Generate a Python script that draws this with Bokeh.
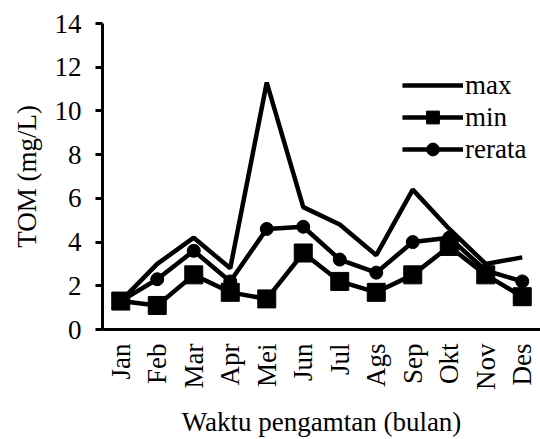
from math import pi
from bokeh.plotting import figure
from bokeh.models import FactorRange, Range1d, FixedTicker, Legend, LegendItem, ColumnDataSource
from bokeh.embed import file_html
from bokeh.resources import INLINE

months = ["Jan", "Feb", "Mar", "Apr", "Mei", "Jun", "Jul", "Ags", "Sep", "Okt", "Nov", "Des"]
tom_max = [1.3, 3.0, 4.2, 2.8, 11.3, 5.6, 4.8, 3.4, 6.4, 4.6, 3.0, 3.3]
tom_min = [1.3, 1.1, 2.5, 1.7, 1.4, 3.5, 2.2, 1.7, 2.5, 3.8, 2.5, 1.5]
tom_rerata = [1.3, 2.3, 3.6, 2.2, 4.6, 4.7, 3.2, 2.6, 4.0, 4.2, 2.7, 2.2]
y_ticks = [0, 2, 4, 6, 8, 10, 12, 14]

FONT = "Liberation Serif"

src = ColumnDataSource(dict(m=months, mx=tom_max, mn=tom_min, rr=tom_rerata))

p = figure(width=540, height=439, x_range=FactorRange(*months), y_range=Range1d(0, 14),
           output_backend="svg", toolbar_location=None,
           min_border_left=102, min_border_right=0, min_border_top=23, min_border_bottom=110)
p.outline_line_color = None
p.xgrid.grid_line_color = None
p.ygrid.grid_line_color = None
p.background_fill_color = "white"
p.x_range.range_padding = 0

lw = 4.5
r_max = p.line("m", "mx", source=src, line_color="black", line_width=lw)
r_min_l = p.line("m", "mn", source=src, line_color="black", line_width=lw)
r_min_s = p.scatter("m", "mn", source=src, marker="square", size=18, color="black")
r_rr_l = p.line("m", "rr", source=src, line_color="black", line_width=lw)
r_rr_c = p.scatter("m", "rr", source=src, marker="circle", size=13, color="black")

# axes
p.yaxis.ticker = FixedTicker(ticks=y_ticks)
p.yaxis.axis_label = "TOM (mg/L)"
p.xaxis.axis_label = "Waktu pengamtan (bulan)"
for ax in (p.xaxis[0], p.yaxis[0]):
    ax.axis_line_width = 3
    ax.axis_line_color = "black"
    ax.major_label_text_font = FONT
    ax.major_label_text_font_size = "27px"
    ax.major_label_text_color = "black"
    ax.axis_label_text_font = FONT
    ax.axis_label_text_font_size = "27px"
    ax.axis_label_text_font_style = "normal"
    ax.axis_label_text_color = "black"
    ax.minor_tick_line_color = None

p.yaxis.major_tick_line_width = 3
p.yaxis.major_tick_out = 7
p.yaxis.major_tick_in = 0
p.yaxis.major_label_standoff = 14
p.yaxis.axis_label_standoff = 10

p.xaxis.major_tick_line_color = None
p.xaxis.major_tick_out = 0
p.xaxis.major_tick_in = 0
p.xaxis.major_label_orientation = pi / 2
p.xaxis.major_label_standoff = 14
p.xaxis.axis_label_standoff = 14

legend = Legend(items=[
    LegendItem(label="max", renderers=[r_max]),
    LegendItem(label="min", renderers=[r_min_l, r_min_s]),
    LegendItem(label="rerata", renderers=[r_rr_l, r_rr_c]),
], location=(300, 164))
legend.border_line_color = None
legend.background_fill_alpha = 0
legend.padding = 0
legend.margin = 0
legend.spacing = 0
legend.glyph_width = 61
legend.glyph_height = 32
legend.label_height = 32
legend.label_standoff = 2
legend.label_text_font = FONT
legend.label_text_font_size = "27px"
legend.label_text_color = "black"
p.add_layout(legend, "center")

open("out.html", "w").write(file_html(p, INLINE))
